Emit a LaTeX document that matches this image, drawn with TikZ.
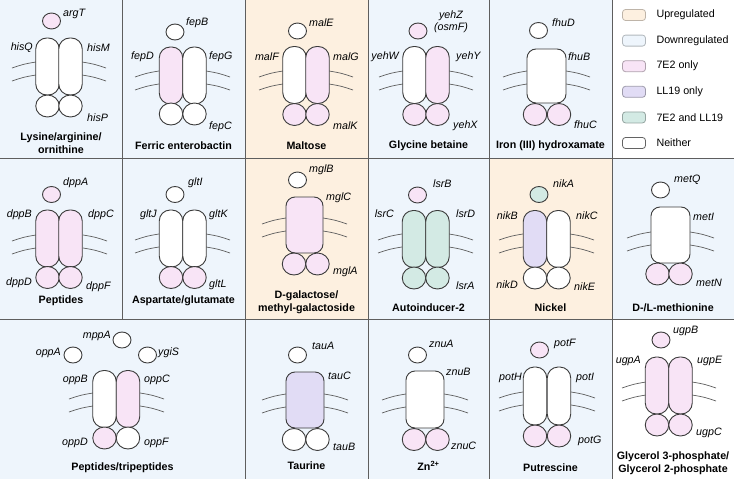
\documentclass[tikz,border=0pt]{standalone}
\usepackage{fontspec}
\setmainfont{Liberation Sans}
\usetikzlibrary{shapes.geometric}
\definecolor{upbg}{HTML}{FDF0E0}
\definecolor{downbg}{HTML}{EEF5FC}
\definecolor{only7}{HTML}{F8E4F6}
\definecolor{onlyll}{HTML}{E1DCF5}
\definecolor{both}{HTML}{D3EAE4}
\definecolor{outl}{HTML}{3C3C3C}
\definecolor{gridline}{HTML}{5E5E5E}

\begin{document}
\begin{tikzpicture}[x=1pt,y=-1pt,every node/.style={font=\fontsize{10.7}{12.5}\selectfont}]
  \tikzstyle{pill}=[draw=outl,line width=0.9pt,fill=white,rounded corners=11pt,minimum width=23.5pt,minimum height=57pt,inner sep=0pt]
  \tikzstyle{core}=[draw=outl,line width=0.9pt,fill=white,rounded corners=9pt,minimum width=38pt,minimum height=56pt,inner sep=0pt]
  \tikzstyle{nbd}=[draw=outl,line width=0.9pt,fill=white,ellipse,minimum width=23.5pt,minimum height=22pt,inner sep=0pt]
  \tikzstyle{sbp}=[draw=outl,line width=0.9pt,fill=white,ellipse,minimum width=18pt,minimum height=16pt,inner sep=0pt]
  \tikzstyle{gene}=[font=\fontsize{10.7}{12.5}\selectfont\itshape,inner sep=1pt]
  \tikzstyle{ttl}=[font=\fontsize{10.7}{13}\selectfont\bfseries,align=center,inner sep=0pt]
  \tikzstyle{memb}=[draw=gridline,line width=0.7pt]
  \tikzstyle{swatch}=[line width=0.8pt,rounded corners=3pt,minimum width=23pt,minimum height=11pt,inner sep=0pt]
  \useasboundingbox (0,0) rectangle (734,479);

  % cell backgrounds
  \fill[downbg] (0,0) rectangle (245,158);
  \fill[upbg] (245,0) rectangle (368,158);
  \fill[downbg] (368,0) rectangle (612,158);
  \fill[downbg] (0,158) rectangle (245,319);
  \fill[upbg] (245,158) rectangle (368,319);
  \fill[downbg] (368,158) rectangle (489,319);
  \fill[upbg] (489,158) rectangle (612,319);
  \fill[downbg] (612,158) rectangle (734,319);
  \fill[downbg] (0,319) rectangle (612,479);
  \draw[gridline,line width=1pt] (0,158) -- (734,158) (0,319) -- (734,319)
    (122,0) -- (122,319) (245,0) -- (245,479) (368,0) -- (368,479)
    (489,0) -- (489,479) (612,0) -- (612,479);

  % membranes
  \foreach \xl/\xr/\yu in {36/82/62, 159/206/71, 283/329/71, 403/449/71, 527/566/71,
      36/83/235, 159/206/234, 286/323/218, 402/449/234, 523/570/234, 651/690/232,
      93/140/393, 286/324/394, 406/444/394, 523/571/392, 646/692/382}
    \draw[memb] (\xl-24,\yu+6) .. controls (\xl-12,\yu+2) .. (\xl,\yu)
      (\xl-24,\yu+19) .. controls (\xl-12,\yu+15) .. (\xl,\yu+13)
      (\xr,\yu) .. controls (\xr+12,\yu+2) .. (\xr+24,\yu+6)
      (\xr,\yu+13) .. controls (\xr+12,\yu+15) .. (\xr+24,\yu+19);

  % Lysine/arginine/ornithine
  \node[sbp,fill=only7] (argT) at (51.5,21) {};
  \node[gene,anchor=west] (argTt) at (62,14) {argT};
  \node[pill] (hisQ) at (47.5,66.5) {};
  \node[pill] (hisM) at (70.5,66.5) {};
  \node[nbd] (hisPa) at (47.5,106) {};
  \node[nbd] (hisPb) at (70.5,106) {};
  \node[gene,anchor=east] (hisQt) at (34,48) {hisQ};
  \node[gene,anchor=west] (hisMt) at (86,48) {hisM};
  \node[gene,anchor=west] (hisPt) at (86,118) {hisP};
  \node[ttl] (lys) at (61,143) {Lysine/arginine/\\ornithine};

  % Ferric enterobactin
  \node[sbp] (fepB) at (175,32) {};
  \node[gene,anchor=west] (fepBt) at (185,23) {fepB};
  \node[pill,fill=only7] (fepD) at (171,75.5) {};
  \node[pill] (fepG) at (194.5,75.5) {};
  \node[nbd] (fepCa) at (171,114) {};
  \node[nbd] (fepCb) at (194.5,114) {};
  \node[gene,anchor=east] (fepDt) at (155,57) {fepD};
  \node[gene,anchor=west] (fepGt) at (208,57) {fepG};
  \node[gene,anchor=west] (fepCt) at (208,127) {fepC};
  \node[ttl] (fep) at (183.5,146) {Ferric enterobactin};

  % Maltose
  \node[sbp] (malE) at (297.5,31) {};
  \node[gene,anchor=west] (malEt) at (308,23) {malE};
  \node[pill] (malF) at (294.5,75) {};
  \node[pill,fill=only7] (malG) at (317.5,75) {};
  \node[nbd,fill=only7] (malKa) at (294.5,114.5) {};
  \node[nbd,fill=only7] (malKb) at (317.5,114.5) {};
  \node[gene,anchor=east] (malFt) at (280,57) {malF};
  \node[gene,anchor=west] (malGt) at (332,57) {malG};
  \node[gene,anchor=west] (malKt) at (332,126) {malK};
  \node[ttl] (mal) at (306.5,146) {Maltose};

  % Glycine betaine
  \node[sbp,fill=only7] (yehZ) at (418,31) {};
  \node[gene,align=center] (yehZt) at (451,21.5) {yehZ\\(osmF)};
  \node[pill] (yehW) at (414.5,75) {};
  \node[pill,fill=only7] (yehY) at (437.5,75) {};
  \node[nbd,fill=only7] (yehXa) at (414.5,114.5) {};
  \node[nbd,fill=only7] (yehXb) at (437.5,114.5) {};
  \node[gene,anchor=east] (yehWt) at (400,57) {yehW};
  \node[gene,anchor=west] (yehYt) at (455,57) {yehY};
  \node[gene,anchor=west] (yehXt) at (452,126) {yehX};
  \node[ttl] (gly) at (428.5,146) {Glycine betaine};

  % Iron (III) hydroxamate
  \node[sbp] (fhuD) at (538.5,30.5) {};
  \node[gene,anchor=west] (fhuDt) at (551,23) {fhuD};
  \node[core,minimum width=39pt,minimum height=54pt] (fhuB) at (546.5,76) {};
  \node[nbd,fill=only7] (fhuCa) at (535,114.5) {};
  \node[nbd,fill=only7] (fhuCb) at (559,114.5) {};
  \node[gene,anchor=west] (fhuBt) at (567,57) {fhuB};
  \node[gene,anchor=west] (fhuCt) at (573,125) {fhuC};
  \node[ttl] (fhu) at (550.5,146) {Iron (III) hydroxamate};

  % legend
  \node[swatch,fill=upbg,draw=upbg!75!black] (kup) at (634,15) {};
  \node[swatch,fill=downbg,draw=downbg!75!black] (kdown) at (634,40.6) {};
  \node[swatch,fill=only7,draw=only7!70!black] (k7) at (634,66.2) {};
  \node[swatch,fill=onlyll,draw=onlyll!70!black] (kll) at (634,91.8) {};
  \node[swatch,fill=both,draw=both!70!black] (kboth) at (634,117.4) {};
  \node[swatch,fill=white,draw=outl!80] (knone) at (634,143) {};
  \node[anchor=west] (kupt) at (653,15) {Upregulated};
  \node[anchor=west] (kdownt) at (653,40.6) {Downregulated};
  \node[anchor=west] (k7t) at (653,66.2) {7E2 only};
  \node[anchor=west] (kllt) at (653,91.8) {LL19 only};
  \node[anchor=west] (kbotht) at (653,117.4) {7E2 and LL19};
  \node[anchor=west] (knonet) at (653,143) {Neither};

  % Peptides
  \node[sbp,fill=only7] (dppA) at (51.5,194.5) {};
  \node[gene,anchor=west] (dppAt) at (62,183) {dppA};
  \node[pill,fill=only7] (dppB) at (47.5,238.5) {};
  \node[pill,fill=only7] (dppC) at (70.5,238.5) {};
  \node[nbd,fill=only7] (dppD) at (47.5,277.5) {};
  \node[nbd,fill=only7] (dppF) at (70.5,277.5) {};
  \node[gene,anchor=east] (dppBt) at (33,215) {dppB};
  \node[gene,anchor=west] (dppCt) at (87,215) {dppC};
  \node[gene,anchor=east] (dppDt) at (33,283) {dppD};
  \node[gene,anchor=west] (dppFt) at (85,287) {dppF};
  \node[ttl] (dpp) at (61,301) {Peptides};

  % Aspartate/glutamate
  \node[sbp] (gltI) at (175,194.5) {};
  \node[gene,anchor=west] (gltIt) at (187,183) {gltI};
  \node[pill] (gltJ) at (171,238.5) {};
  \node[pill] (gltK) at (194.5,238.5) {};
  \node[nbd,fill=only7] (gltLa) at (171,277.5) {};
  \node[nbd,fill=only7] (gltLb) at (194.5,277.5) {};
  \node[gene,anchor=east] (gltJt) at (158,215) {gltJ};
  \node[gene,anchor=west] (gltKt) at (208,215) {gltK};
  \node[gene,anchor=west] (gltLt) at (208,285) {gltL};
  \node[ttl] (glt) at (183.5,301) {Aspartate/glutamate};

  % D-galactose/methyl-galactoside
  \node[sbp] (mglB) at (297.5,180) {};
  \node[gene,anchor=west] (mglBt) at (308,170) {mglB};
  \node[core,fill=only7,minimum width=37pt] (mglC) at (304.5,225) {};
  \node[nbd,fill=only7] (mglAa) at (294,264) {};
  \node[nbd,fill=only7] (mglAb) at (317.5,264) {};
  \node[gene,anchor=west] (mglCt) at (325,198) {mglC};
  \node[gene,anchor=west] (mglAt) at (332,272) {mglA};
  \node[ttl] (mgl) at (306.5,302.5) {D-galactose/\\methyl-galactoside};

  % Autoinducer-2
  \node[sbp,fill=only7] (lsrB) at (417.5,195) {};
  \node[gene,anchor=west] (lsrBt) at (432,184) {lsrB};
  \node[pill,fill=both] (lsrC) at (414,239) {};
  \node[pill,fill=both] (lsrD) at (437.5,239) {};
  \node[nbd,fill=both] (lsrAa) at (414,278) {};
  \node[nbd,fill=both] (lsrAb) at (437.5,278) {};
  \node[gene,anchor=east] (lsrCt) at (395,214) {lsrC};
  \node[gene,anchor=west] (lsrDt) at (455,214) {lsrD};
  \node[gene,anchor=west] (lsrAt) at (455,286) {lsrA};
  \node[ttl] (lsr) at (428.5,308) {Autoinducer-2};

  % Nickel
  \node[sbp,fill=both] (nikA) at (539,194.5) {};
  \node[gene,anchor=west] (nikAt) at (552,184) {nikA};
  \node[pill,fill=onlyll] (nikB) at (535,239) {};
  \node[pill] (nikC) at (558.5,239) {};
  \node[nbd] (nikD) at (535,278) {};
  \node[nbd] (nikE) at (558.5,278) {};
  \node[gene,anchor=east] (nikBt) at (519,216) {nikB};
  \node[gene,anchor=west] (nikCt) at (575,216) {nikC};
  \node[gene,anchor=east] (nikDt) at (519,285) {nikD};
  \node[gene,anchor=west] (nikEt) at (573,287) {nikE};
  \node[ttl] (nik) at (550.5,308) {Nickel};

  % D-/L-methionine
  \node[sbp] (metQ) at (660.5,190) {};
  \node[gene,anchor=west] (metQt) at (673,180) {metQ};
  \node[core,minimum width=39pt] (metI) at (670.5,235) {};
  \node[nbd,fill=only7] (metNa) at (657.5,274) {};
  \node[nbd,fill=only7] (metNb) at (680.5,274) {};
  \node[gene,anchor=west] (metIt) at (692,217) {metI};
  \node[gene,anchor=west] (metNt) at (695,283) {metN};
  \node[ttl] (met) at (673,308) {D-/L-methionine};

  % Peptides/tripeptides
  \node[sbp] (mppA) at (122,340) {};
  \node[sbp] (oppA) at (73,355) {};
  \node[sbp] (ygiS) at (147.5,355) {};
  \node[gene,anchor=east] (mppAt) at (112,336) {mppA};
  \node[gene,anchor=east] (oppAt) at (62,353) {oppA};
  \node[gene,anchor=west] (ygiSt) at (157,353) {ygiS};
  \node[pill] (oppB) at (104.5,399) {};
  \node[pill,fill=only7] (oppC) at (128,399) {};
  \node[nbd,fill=only7] (oppD) at (104.5,438) {};
  \node[nbd] (oppF) at (128,438) {};
  \node[gene,anchor=east] (oppBt) at (89,380) {oppB};
  \node[gene,anchor=west] (oppCt) at (143,380) {oppC};
  \node[gene,anchor=east] (oppDt) at (89,443) {oppD};
  \node[gene,anchor=west] (oppFt) at (143,443) {oppF};
  \node[ttl] (opp) at (122.5,468) {Peptides/tripeptides};

  % Taurine
  \node[sbp] (tauA) at (297.5,355) {};
  \node[gene,anchor=west] (tauAt) at (311,346) {tauA};
  \node[core,fill=onlyll] (tauC) at (305,400) {};
  \node[nbd] (tauBa) at (294,439.5) {};
  \node[nbd] (tauBb) at (317.5,439.5) {};
  \node[gene,anchor=west] (tauCt) at (327,376) {tauC};
  \node[gene,anchor=west] (tauBt) at (332,447) {tauB};
  \node[ttl] (tau) at (306.5,466) {Taurine};

  % Zn2+
  \node[sbp] (znuA) at (417.5,355) {};
  \node[gene,anchor=west] (znuAt) at (428,344) {znuA};
  \node[core,minimum height=57pt] (znuB) at (425,399.5) {};
  \node[nbd,fill=only7] (znuCa) at (414,439.5) {};
  \node[nbd,fill=only7] (znuCb) at (437.5,439.5) {};
  \node[gene,anchor=west] (znuBt) at (445,372) {znuB};
  \node[gene,anchor=west] (znuCt) at (450,446) {znuC};
  \node[ttl] (znu) at (428.5,466) {Zn\textsuperscript{2+}};

  % Putrescine
  \node[sbp,fill=only7] (potF) at (539.5,350) {};
  \node[gene,anchor=west] (potFt) at (553,344) {potF};
  \node[pill,minimum height=58pt] (potH) at (535,396) {};
  \node[pill,minimum height=58pt] (potI) at (559,396) {};
  \node[nbd,fill=only7] (potGa) at (535,436) {};
  \node[nbd,fill=only7] (potGb) at (559,436) {};
  \node[gene,anchor=east] (potHt) at (523,378) {potH};
  \node[gene,anchor=west] (potIt) at (575,378) {potI};
  \node[gene,anchor=west] (potGt) at (577,441) {potG};
  \node[ttl] (pot) at (550.5,468) {Putrescine};

  % Glycerol 3-phosphate/Glycerol 2-phosphate
  \node[sbp,fill=only7] (ugpB) at (661,340) {};
  \node[gene,anchor=west] (ugpBt) at (672,331) {ugpB};
  \node[pill,fill=only7] (ugpA) at (657,385.5) {};
  \node[pill,fill=only7] (ugpE) at (680.5,385.5) {};
  \node[nbd,fill=only7] (ugpCa) at (657,425) {};
  \node[nbd,fill=only7] (ugpCb) at (680.5,425) {};
  \node[gene,anchor=east] (ugpAt) at (642,361) {ugpA};
  \node[gene,anchor=west] (ugpEt) at (696,361) {ugpE};
  \node[gene,anchor=west] (ugpCt) at (695,433) {ugpC};
  \node[ttl] (ugp) at (673,463.5) {Glycerol 3-phosphate/\\Glycerol 2-phosphate};
\end{tikzpicture}
\end{document}
